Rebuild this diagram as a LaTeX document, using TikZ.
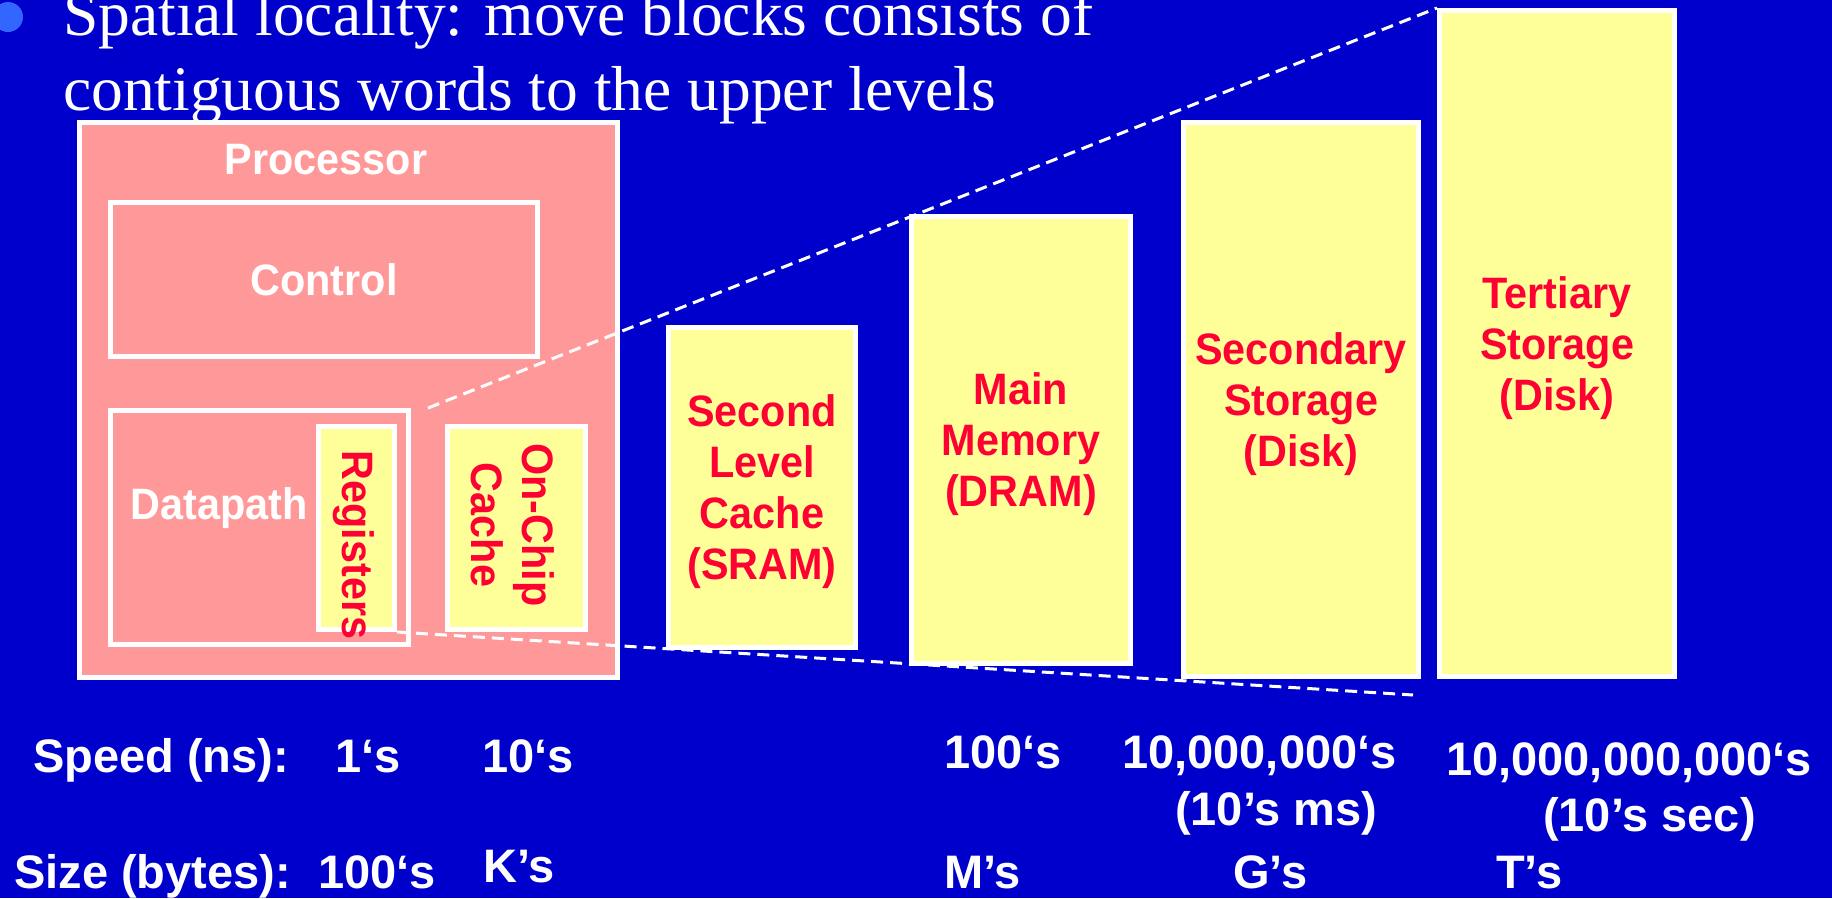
\documentclass[tikz,border=0pt]{standalone}
\usepackage{fontspec}
\setmainfont{Liberation Sans}
\newfontfamily\serifslide{Liberation Serif}
\newfontfamily\boxsans{Liberation Sans}[FakeStretch=0.94]
\usepackage{tikz}
\usetikzlibrary{positioning}
\definecolor{slideblue}{RGB}{0,0,204}
\definecolor{bulletblue}{RGB}{51,102,255}
\definecolor{procpink}{RGB}{255,153,153}
\definecolor{memyellow}{RGB}{255,255,153}
\definecolor{memred}{RGB}{255,0,51}
\newcommand{\lblfont}{\boxsans\fontsize{44pt}{51pt}\selectfont\bfseries}
\newcommand{\statfont}{\fontsize{47pt}{56pt}\selectfont\bfseries}
\newcommand{\bulletfont}{\serifslide\fontsize{63.5pt}{75pt}\selectfont}
\tikzset{
    chip/.style={
    rectangle,draw=white,fill=procpink,line width=5pt,inner sep=0pt,text=white,font=\lblfont
    },
    membox/.style={
    rectangle,draw=white,fill=memyellow,line width=5pt,inner sep=0pt,text=memred,font=\lblfont,align=center,text depth=0pt
    },
    whitelbl/.style={text=white,font=\lblfont,inner sep=0pt},
    redlbl/.style={text=memred,font=\lblfont,inner sep=0pt,align=center},
    stat/.style={text=white,font=\statfont,anchor=base west,inner sep=0pt},
    bullettext/.style={text=white,font=\bulletfont,anchor=base west,inner sep=0pt},
    zoomline/.style={draw=white,line width=3pt,dash pattern=on 12pt off 7pt},
}

\begin{document}
\begin{tikzpicture}[x=1pt,y=-1pt]
\useasboundingbox (0,0) rectangle (1832,898);
\fill[slideblue] (0,0) rectangle (1832,898);

  % bullet line
  \fill[bulletblue] (8,17) circle (15);
  \node[bullettext] (line1) at (63,35) {Spatial locality: move blocks consists of};
  \node[bullettext] (line2) at (63,110) {contiguous words to the upper levels};

  % processor
  \node[chip,minimum width=538pt,minimum height=555pt] (proc) at (348.5,400) {};
  \node[whitelbl] (proclbl) at (326,160) {Processor};
  \node[chip,minimum width=427pt,minimum height=154pt] (ctrl) at (324,279.5) {Control};
  \node[chip,minimum width=298pt,minimum height=234pt] (dp) at (259.5,527.5) {};
  \node[whitelbl] (dplbl) at (219,508) {Datapath};
  \node[membox,minimum width=76pt,minimum height=203pt] (regs) at (356.5,528) {};
  \node[redlbl,rotate=-90] (regslbl) at (354,545) {Registers};
  \node[membox,minimum width=138pt,minimum height=203pt] (onchip) at (516.5,528) {};
  \node[redlbl,rotate=-90] (onchiplbl) at (513,525) {On-Chip\\Cache};

  % memory levels
  \node[membox,minimum width=187pt,minimum height=320pt] (sram) at (762,487.5) {Second\\Level\\Cache\\(SRAM)};
  \node[membox,minimum width=219pt,minimum height=447pt] (dram) at (1021,440) {Main\\Memory\\(DRAM)};
  \node[membox,minimum width=235pt,minimum height=554pt] (sec) at (1301,399.5) {Secondary\\Storage\\(Disk)};
  \node[membox,minimum width=235pt,minimum height=666pt] (tert) at (1557,343.5) {Tertiary\\Storage\\(Disk)};

  \coordinate (lowend) at (1413,695);
  \draw[zoomline] ([xshift=17pt]dp.north east) -- (tert.north west);
  \draw[zoomline] (regs.south east) -- (lowend);

  % speed and size
  \node[stat] (speed) at (33,772) {Speed (ns):};
  \node[stat] (sp1) at (335,772) {1‘s};
  \node[stat] (sp2) at (482,772) {10‘s};
  \node[stat] (sp3) at (944,768) {100‘s};
  \node[stat] (sp4) at (1122,768) {10,000,000‘s};
  \node[stat] (sp4b) at (1175,825) {(10’s ms)};
  \node[stat] (sp5) at (1446,775) {10,000,000,000‘s};
  \node[stat] (sp5b) at (1543,831) {(10’s sec)};
  \node[stat] (size) at (14,888) {Size (bytes):};
  \node[stat] (sz1) at (318,888) {100‘s};
  \node[stat] (sz2) at (483,882) {K’s};
  \node[stat] (sz3) at (944,888) {M’s};
  \node[stat] (sz4) at (1233,888) {G’s};
  \node[stat] (sz5) at (1496,888) {T’s};
\end{tikzpicture}
\end{document}
